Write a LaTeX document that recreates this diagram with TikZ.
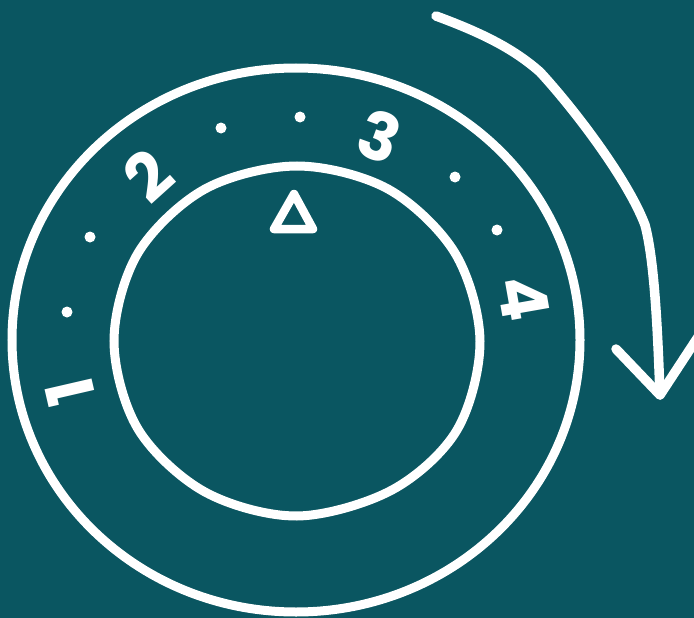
\documentclass[tikz,border=0pt]{standalone}
\usepackage{fontspec}
\setmainfont{Poppins}
\definecolor{bgteal}{RGB}{10,86,97}
\tikzset{
  ring/.style={draw=white, line width=9pt},
  digit/.style={text=white, inner sep=0pt, font=\fontsize{66}{66}\selectfont\bfseries},
  tick/.style={fill=white},
  sweep/.style={draw=white, line width=9.5pt, line cap=round, line join=round}
}
\begin{document}
\begin{tikzpicture}[x=1pt,y=-1pt]
\useasboundingbox (0,0) rectangle (694,618);
\fill[bgteal] (0,0) rectangle (694,618);
% outer ring
\draw[ring] (296,340) ellipse [x radius=284, y radius=272];
% inner ring
\draw[ring] plot[smooth cycle, tension=0.55] coordinates {
  (480,341) (457,430) (392,490) (297,516) (205,492) (138,429) (114,341)
  (138,253) (205,189) (297,166) (388,189) (455,253)};
% digits
\node[digit, rotate=103] (d1) at (70,392) {1};
\node[digit, rotate=42] (d2) at (148,176) {2};
\node[digit, rotate=-20] (d3) at (380,136) {3};
\node[digit, rotate=-80] (d4) at (524,298) {4};
% dots
\foreach \p in {(67,312),(90,237),(221,128),(300,117),(455,177),(497,230)}
  \fill[tick] \p circle (5.5);
% pointer triangle
\draw[draw=white, line width=8.5pt, line join=round] (294,194) -- (313,229) -- (274,229) -- cycle;
% rotation arrow
\coordinate (a0) at (436,16);
\coordinate (tip) at (660,395);
\draw[sweep] (a0) .. controls (485,34) and (515,50) .. (540,72)
  .. controls (575,110) and (628,180) .. (645,225)
  .. controls (655,262) and (658,340) .. (tip);
\coordinate (armL) at (616,349);
\coordinate (armR) at (700,334);
\draw[sweep] (armL) -- (tip) -- (armR);
\end{tikzpicture}
\end{document}
